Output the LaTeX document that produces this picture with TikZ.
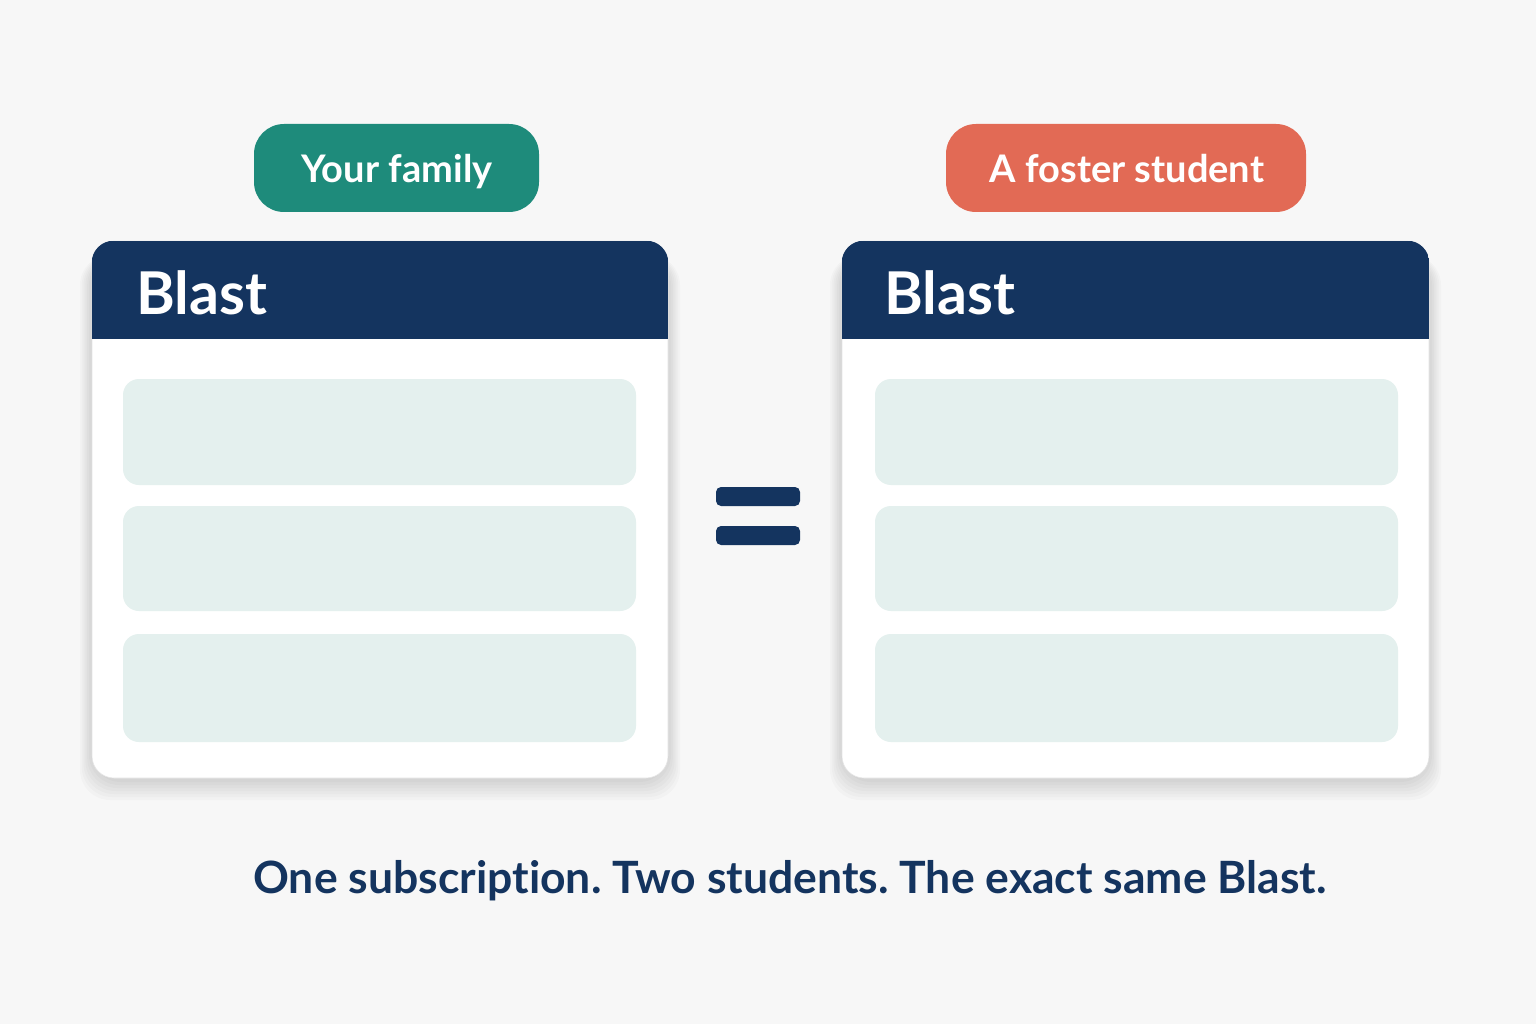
\documentclass[tikz,border=0pt]{standalone}
\usepackage{fontspec}
\setmainfont{Lato}[Ligatures=NoCommon]
\frenchspacing
\usetikzlibrary{calc}
\definecolor{navy}{RGB}{20,52,95}
\definecolor{teal1}{RGB}{30,139,123}
\definecolor{coral}{RGB}{226,106,85}
\definecolor{rowc}{RGB}{228,240,238}
\definecolor{bg}{RGB}{247,247,247}
\begin{document}
\begin{tikzpicture}[x=1pt,y=-1pt,
  card/.style={rectangle, rounded corners=22pt, fill=white, draw=black!10, line width=0.6pt,
    minimum height=537pt, inner sep=0pt},
  shade1/.style={fill=black, fill opacity=0.02, rounded corners=30pt},
  rowbox/.style={rectangle, rounded corners=16pt, fill=rowc, inner sep=0pt},
  pill/.style={rectangle, rounded corners=30pt, inner sep=0pt, minimum height=88pt},
  pilltext/.style={text=white, inner sep=0pt, anchor=base, font=\fontsize{38}{40}\selectfont\bfseries},
  bar/.style={rectangle, rounded corners=5pt, fill=navy, inner sep=0pt, minimum width=84pt, minimum height=19pt},
  title/.style={text=white, inner sep=0pt, anchor=base west, font=\fontsize{59}{62}\selectfont\bfseries},
  caption/.style={text=navy, inner sep=0pt, anchor=base, font=\fontsize{44.5}{48}\selectfont\bfseries}]
\fill[bg] (0,0) rectangle (1536,1024);
\useasboundingbox (0,0) rectangle (1536,1024);

% soft shadows
\foreach \d in {2,5,8,11,14,17,20}{
  \fill[shade1] (92-\d*0.6,241+14) rectangle (668+\d*0.6,778+2+\d);
  \fill[shade1] (842-\d*0.6,241+14) rectangle (1429+\d*0.6,778+2+\d);
}

% cards
\node[card, minimum width=576pt] (cardL) at (380,509.5) {};
\node[card, minimum width=587pt] (cardR) at (1135.5,509.5) {};
\foreach \c in {cardL,cardR}{
  \begin{scope}
    \clip[rounded corners=22pt] (\c.south west) rectangle (\c.north east);
    \fill[navy] (\c.north west) rectangle ($(\c.north east)+(0,98)$);
  \end{scope}
}

% rows left
\node[rowbox, minimum width=513pt, minimum height=106pt] (l1) at (379.5,432) {};
\node[rowbox, minimum width=513pt, minimum height=105pt] (l2) at (379.5,558.5) {};
\node[rowbox, minimum width=513pt, minimum height=108pt] (l3) at (379.5,688) {};
% rows right
\node[rowbox, minimum width=523pt, minimum height=106pt] (r1) at (1136.5,432) {};
\node[rowbox, minimum width=523pt, minimum height=105pt] (r2) at (1136.5,558.5) {};
\node[rowbox, minimum width=523pt, minimum height=108pt] (r3) at (1136.5,688) {};

% titles
\node[title] (tL) at (136,314) {Blast};
\node[title] (tR) at (884,314) {Blast};

% pills
\node[pill, fill=teal1, minimum width=285pt] (pL) at (396.5,168) {};
\node[pill, fill=coral, minimum width=360pt] (pR) at (1126,168) {};
\node[pilltext] (pLt) at (397,183) {Your family};
\node[pilltext] (pRt) at (1127,183) {A foster student};

% equals
\node[bar] (e1) at (758,496.5) {};
\node[bar] (e2) at (758,535.5) {};

% caption
\node[caption] (cap) at (790,893) {One subscription. Two students. The exact same Blast.};
\end{tikzpicture}
\end{document}
